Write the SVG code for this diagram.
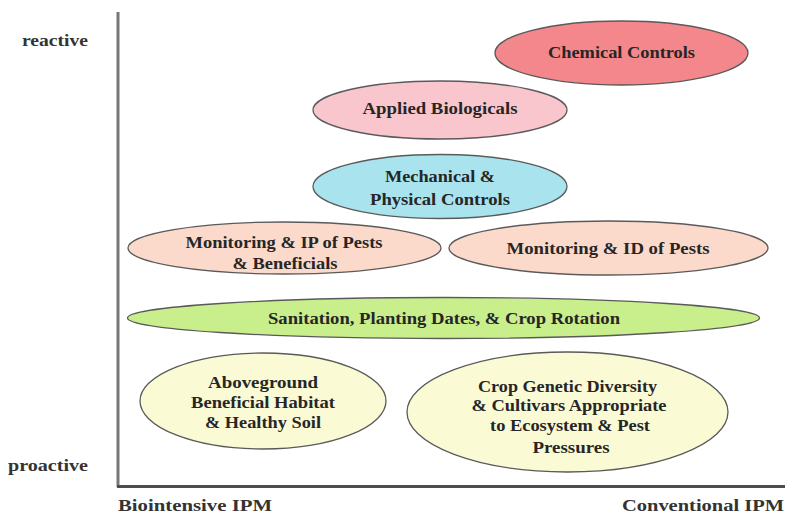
<svg xmlns="http://www.w3.org/2000/svg" width="785" height="513" viewBox="0 0 785 513">
<style>
  text { font-family: "Liberation Serif", "Times New Roman", serif; font-weight: bold; font-size: 16px; fill: #262626; text-anchor: middle; dominant-baseline: central; }
  .lbl { text-anchor: start; fill: #333333; }
  ellipse { stroke: #5a5a5a; stroke-width: 1.3; }
  .axis { fill: none; stroke-width: 3; }
</style>
<rect width="785" height="513" fill="#ffffff"/>
<g id="axes">
  <line class="axis" x1="118" y1="12" x2="118" y2="487" stroke="#777777"/>
  <line class="axis" x1="117" y1="486.5" x2="785" y2="486.5" stroke="#4d4d4d"/>
</g>
<g id="axis-labels">
  <text class="lbl" x="22" y="40" textLength="66" lengthAdjust="spacingAndGlyphs">reactive</text>
  <text class="lbl" x="8" y="465" textLength="80" lengthAdjust="spacingAndGlyphs">proactive</text>
  <text class="lbl" x="118" y="505" textLength="154" lengthAdjust="spacingAndGlyphs">Biointensive IPM</text>
  <text class="lbl" x="622" y="505" textLength="162" lengthAdjust="spacingAndGlyphs">Conventional IPM</text>
</g>
<g id="chemical">
  <ellipse cx="621.5" cy="53" rx="126.5" ry="32" fill="#f4878b" stroke="#6e3c3c"/>
  <text x="621.5" y="52" fill="#4a1218" textLength="147" lengthAdjust="spacingAndGlyphs">Chemical Controls</text>
</g>
<g id="applied">
  <ellipse cx="440" cy="110" rx="127" ry="29" fill="#f9c6ce"/>
  <text x="440" y="108" textLength="155" lengthAdjust="spacingAndGlyphs">Applied Biologicals</text>
</g>
<g id="mechanical">
  <ellipse cx="440" cy="186.5" rx="127" ry="32" fill="#a9e4ee"/>
  <text x="440" y="176" textLength="110" lengthAdjust="spacingAndGlyphs">Mechanical &amp;</text>
  <text x="440" y="199" textLength="140" lengthAdjust="spacingAndGlyphs">Physical Controls</text>
</g>
<g id="monitoring-ip">
  <ellipse cx="284.5" cy="248" rx="156.5" ry="26" fill="#fcdacb"/>
  <text x="284" y="242" textLength="197" lengthAdjust="spacingAndGlyphs">Monitoring &amp; IP of Pests</text>
  <text x="285" y="263" textLength="105" lengthAdjust="spacingAndGlyphs">&amp; Beneficials</text>
</g>
<g id="monitoring-id">
  <ellipse cx="608.5" cy="248" rx="159.5" ry="27" fill="#fcdacb"/>
  <text x="608" y="248" textLength="203" lengthAdjust="spacingAndGlyphs">Monitoring &amp; ID of Pests</text>
</g>
<g id="sanitation">
  <ellipse cx="443.5" cy="318" rx="316" ry="20.5" fill="#c8ef8c"/>
  <text x="444" y="318" textLength="352" lengthAdjust="spacingAndGlyphs">Sanitation, Planting Dates, &amp; Crop Rotation</text>
</g>
<g id="aboveground">
  <ellipse cx="263" cy="401" rx="123" ry="48" fill="#fafad5"/>
  <text x="263" y="382" textLength="110" lengthAdjust="spacingAndGlyphs">Aboveground</text>
  <text x="263" y="402" textLength="144" lengthAdjust="spacingAndGlyphs">Beneficial Habitat</text>
  <text x="263" y="422" textLength="116" lengthAdjust="spacingAndGlyphs">&amp; Healthy Soil</text>
</g>
<g id="crop-genetic">
  <ellipse cx="567.5" cy="412" rx="160.5" ry="60" fill="#fafad5"/>
  <text x="567.5" y="386" textLength="179" lengthAdjust="spacingAndGlyphs">Crop Genetic Diversity</text>
  <text x="569" y="405" textLength="195" lengthAdjust="spacingAndGlyphs">&amp; Cultivars Appropriate</text>
  <text x="570" y="425" textLength="160" lengthAdjust="spacingAndGlyphs">to Ecosystem &amp; Pest</text>
  <text x="571" y="447" textLength="77" lengthAdjust="spacingAndGlyphs">Pressures</text>
</g>
<g id="connectors"></g>
</svg>
